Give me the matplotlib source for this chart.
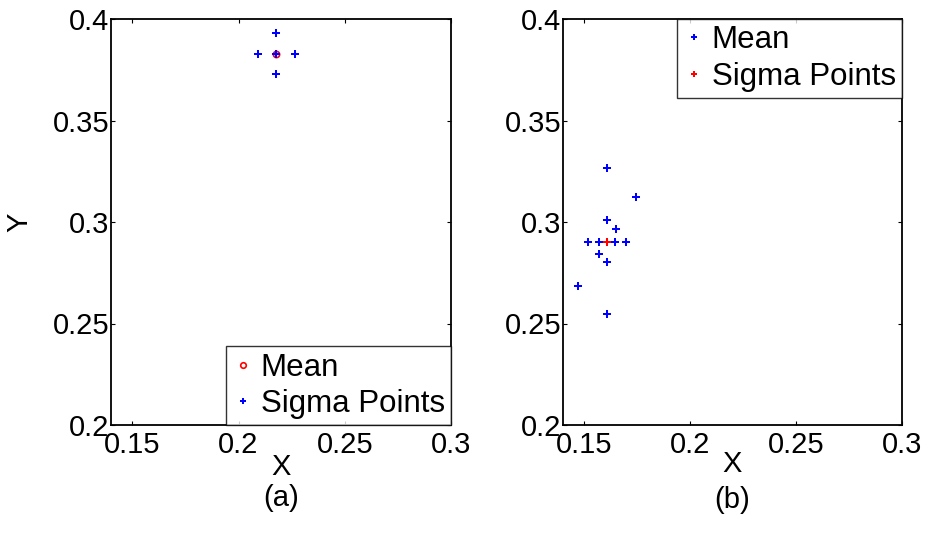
import matplotlib
matplotlib.use("Agg")
import matplotlib.pyplot as plt
from matplotlib.lines import Line2D

plt.rcParams['font.family'] = ['Liberation Sans', 'DejaVu Sans']

# Panel (a)
a_mean_x = [0.2176]
a_mean_y = [0.3829]
a_sigma_x = [0.2176, 0.2176, 0.2176, 0.2090, 0.2264]
a_sigma_y = [0.3829, 0.3930, 0.3728, 0.3829, 0.3829]

# Panel (b)
b_mean_x = [0.1608]
b_mean_y = [0.2903]
b_sigma_x = [0.1606, 0.1745, 0.1606, 0.1649, 0.1519, 0.1571, 0.1608, 0.1644, 0.1697, 0.1570, 0.1606, 0.1472, 0.1606]
b_sigma_y = [0.3265, 0.3122, 0.3010, 0.2967, 0.2903, 0.2903, 0.2903, 0.2903, 0.2903, 0.2841, 0.2801, 0.2685, 0.2547]

xticks = [0.15, 0.2, 0.25, 0.3]
xticklabels = ['0.15', '0.2', '0.25', '0.3']
yticks = [0.2, 0.25, 0.3, 0.35, 0.4]
yticklabels = ['0.2', '0.25', '0.3', '0.35', '0.4']

FS = 21
LFS = 22.5
fig = plt.figure(figsize=(9.29, 5.35), dpi=100)
W, H = 929, 535
axA = fig.add_axes([111 / W, (H - 425) / H, 340 / W, 406 / H])
axB = fig.add_axes([563 / W, (H - 425) / H, 339 / W, 406 / H])

for ax in (axA, axB):
    ax.set_xlim(0.14, 0.3)
    ax.set_ylim(0.2, 0.4)
    ax.set_xticks(xticks)
    ax.set_xticklabels(xticklabels)
    ax.set_yticks(yticks)
    ax.set_yticklabels(yticklabels)
    ax.tick_params(direction='in', length=3, width=0.8, labelsize=FS,
                   top=True, right=True)
    ax.tick_params(axis='x', pad=4)
    ax.tick_params(axis='y', pad=1)
    for s in ax.spines.values():
        s.set_linewidth(1.3)

mk = dict(marker='P', markersize=6, linestyle='none', markeredgewidth=0)
legkw = dict(fontsize=LFS, frameon=True, fancybox=False, edgecolor='black',
             borderpad=0.2, handletextpad=0.2, handlelength=0.7,
             labelspacing=0.2, borderaxespad=0)

# (a)
axA.plot(a_mean_x, a_mean_y, marker='o', markersize=4.5, markerfacecolor='none',
         markeredgecolor='red', markeredgewidth=1.2, linestyle='none')
axA.plot(a_sigma_x, a_sigma_y, color='blue', **mk)
legA = [Line2D([], [], marker='o', markersize=4, markerfacecolor='none',
               markeredgecolor='red', markeredgewidth=1.2, linestyle='none'),
        Line2D([], [], color='blue', marker='P', markersize=5, markeredgewidth=0, linestyle='none')]
la = axA.legend(legA, ['Mean', 'Sigma Points'], loc='lower right', **legkw)
la.get_frame().set_linewidth(1.0)
axA.set_xlabel('X', fontsize=FS, labelpad=-4)
axA.set_ylabel('Y', fontsize=FS, labelpad=14)
axA.text(0.5, -0.145, '(a)', transform=axA.transAxes, ha='center', va='top', fontsize=FS)

# (b)
axB.plot(b_sigma_x, b_sigma_y, color='blue', **mk)
axB.plot(b_mean_x, b_mean_y, color='red', **mk)
legB = [Line2D([], [], color='blue', marker='P', markersize=5, markeredgewidth=0, linestyle='none'),
        Line2D([], [], color='red', marker='P', markersize=5, markeredgewidth=0, linestyle='none')]
lb = axB.legend(legB, ['Mean', 'Sigma Points'], loc='upper right', **legkw)
lb.get_frame().set_linewidth(1.0)
axB.set_xlabel('X', fontsize=FS, labelpad=-6)
axB.text(0.5, -0.15, '(b)', transform=axB.transAxes, ha='center', va='top', fontsize=FS)

fig.savefig('out.png', dpi=100)
